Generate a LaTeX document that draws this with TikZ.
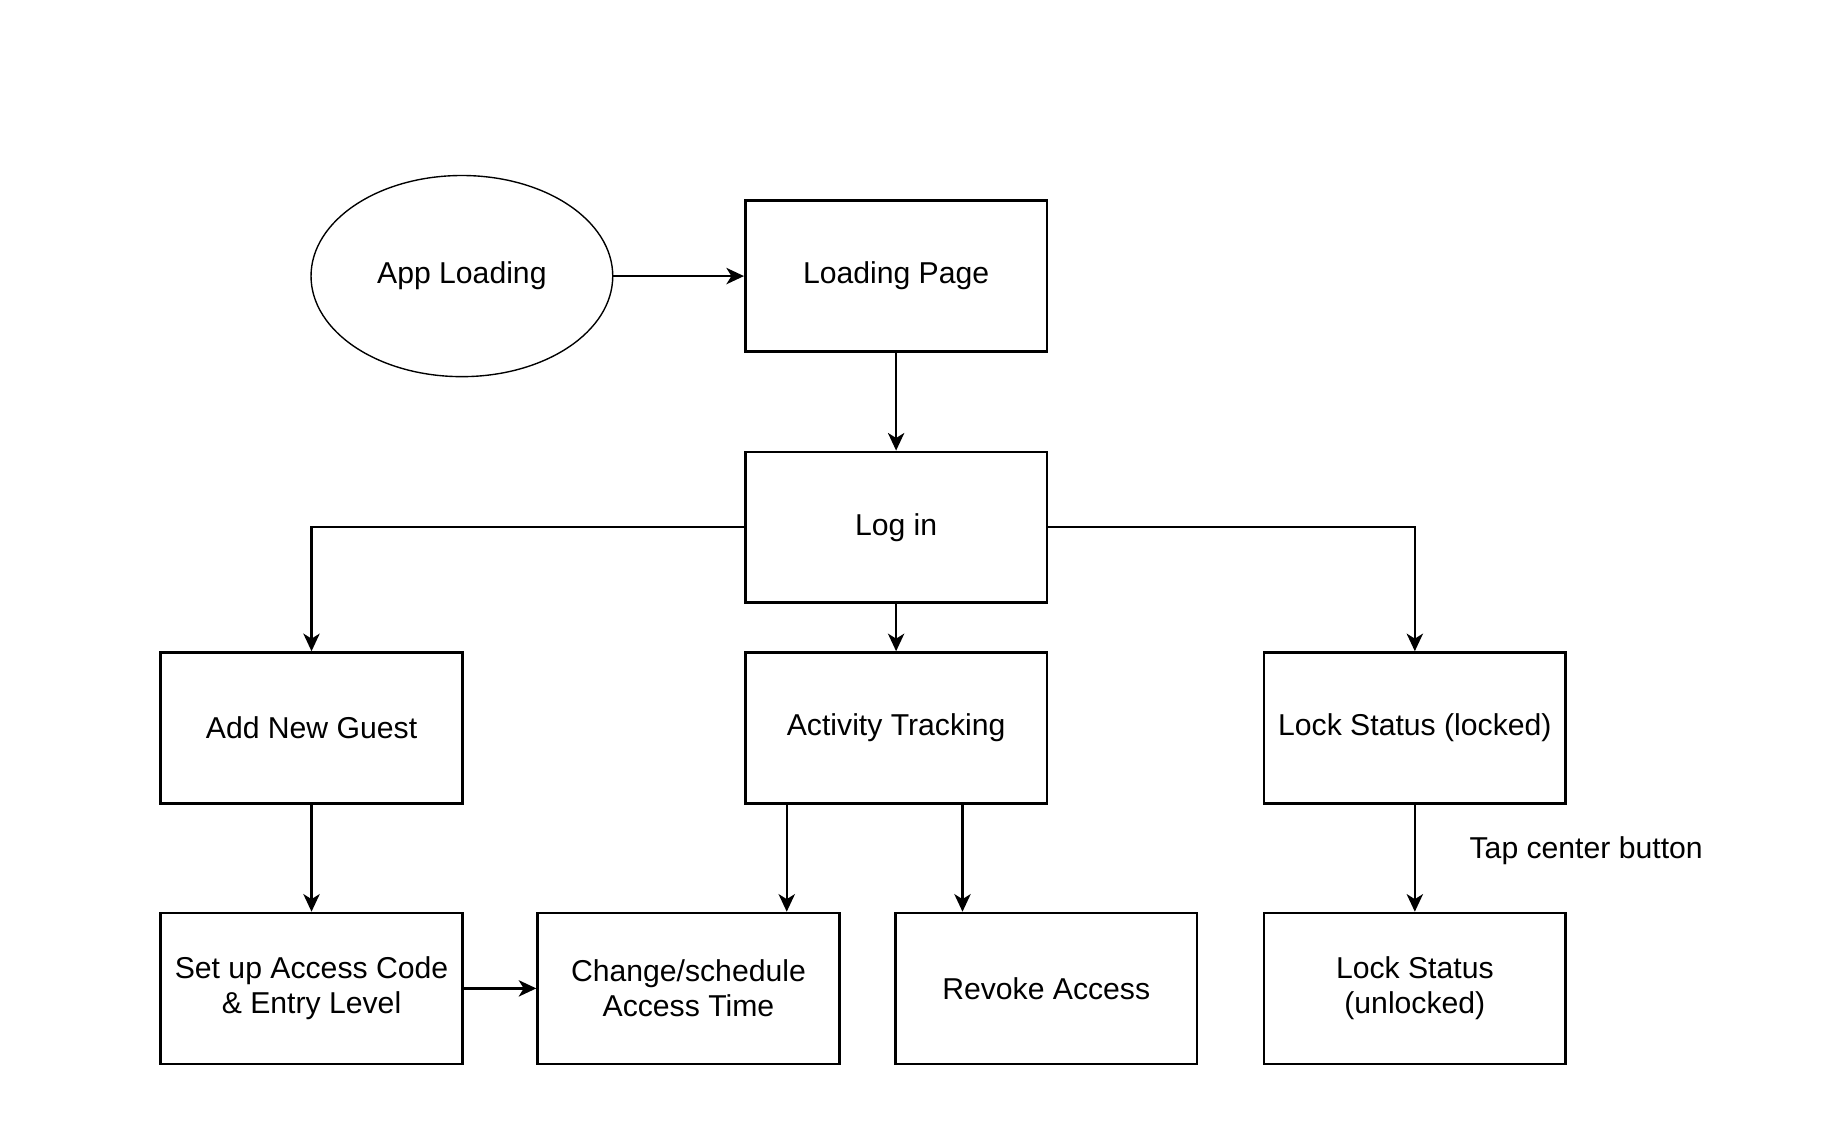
\documentclass[tikz,border=0pt]{standalone}
\usepackage{fontspec}
\setmainfont{Liberation Sans}
\usetikzlibrary{positioning}
\usetikzlibrary{arrows.meta}
\usetikzlibrary{shapes.geometric}

\tikzset{
	box/.style = {draw, black, line width = 1pt, minimum width = 120pt, minimum height = 60pt, align = center, inner sep = 2pt},
	oval/.style = {draw, black, line width = 0.55pt, ellipse, minimum width = 120pt, minimum height = 80pt, inner sep = 0pt},
	arr/.style = {black, line width = 0.9pt, -{Stealth[length = 7pt, width = 6.5pt, inset = 2pt]}}
}

\begin{document}
\begin{tikzpicture}[x = 1pt, y = -1pt, font = \fontsize{12}{14}\selectfont]
					\useasboundingbox (0, 0) rectangle (731.4, 446.8);
					\node [oval] (app) at (183.7, 109.8) {App Loading};
					\node [box] (page) at (356.4, 109.8) {Loading Page};
					\node [box] (login) at (356.4, 209.7) {Log in};
					\node [box] (guest) at (123.9, 289.5) {Add New Guest};
					\node [box] (activity) at (356.4, 289.5) {Activity Tracking};
					\node [box] (locked) at (562.7, 289.5) {Lock Status (locked)};
					\node [box] (setup) at (123.9, 393.1) {Set up Access Code\\\& Entry Level};
					\node [box] (change) at (273.8, 393.1) {Change/schedule\\Access Time};
					\node [box] (revoke) at (416.1, 393.1) {Revoke Access};
					\node [box] (unlocked) at (562.7, 393.1) {Lock Status\\(unlocked)};
					\draw [arr] (app) -- (page);
					\draw [arr] (page) -- (login);
					\draw [arr] (login.west) -| (guest.north);
					\draw [arr] (login) -- (activity);
					\draw [arr] (login.east) -| (locked.north);
					\draw [arr] (guest) -- (setup);
					\draw [arr] (setup) -- (change);
					\draw [arr] ([xshift = 17pt] activity.south west) -- ([xshift = 17pt] activity.south west |- change.north);
					\draw [arr] ([xshift = 27.2pt] revoke.north west |- activity.south) -- ([xshift = 27.2pt] revoke.north west);
					\draw [arr] (locked) -- (unlocked) node [midway, right = 18pt, yshift = 3pt] (tap) {Tap center button};
				\end{tikzpicture}
\end{document}
